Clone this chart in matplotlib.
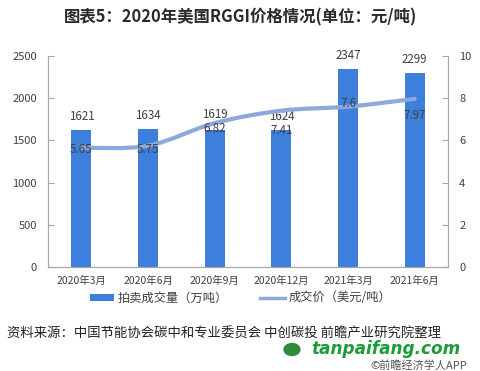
import matplotlib
matplotlib.use("Agg")
import matplotlib.pyplot as plt
import numpy as np
from matplotlib.path import Path
from matplotlib.patches import PathPatch, Circle

plt.rcParams['font.family'] = ['Noto Sans CJK SC', 'DejaVu Sans']

categories = ["2020年3月", "2020年6月", "2020年9月", "2020年12月", "2021年3月", "2021年6月"]
volume = [1621, 1634, 1619, 1624, 2347, 2299]
price = [5.65, 5.75, 6.82, 7.41, 7.6, 7.97]
left_ticks = [0, 500, 1000, 1500, 2000, 2500]
right_ticks = [0, 2, 4, 6, 8, 10]

bar_color = "#3D7FDA"
line_color = "#8FA8DC"
gray = "#A6A6A6"
text_color = "#404040"

fig = plt.figure(figsize=(4.81, 3.71), dpi=100)
ax = fig.add_axes([0.0998, 0.2803, 0.8316, 0.5687])
ax2 = ax.twinx()

x = np.arange(len(categories))
bars = ax.bar(x, volume, width=0.3, color=bar_color, label="拍卖成交量（万吨）", zorder=2)
ax.set_xlim(-0.5, len(categories) - 0.5)
ax.set_ylim(0, 2500)
ax.set_yticks(left_ticks)
ax2.set_ylim(0, 10)
ax2.set_yticks(right_ticks)
ax.set_xticks(x)
ax.set_xticklabels(categories)

bar_offsets = [5, 5, 6.5, 5, 5, 5]
for xi, v, off in zip(x, volume, bar_offsets):
    ax.annotate(str(v), (xi, v), xytext=(0, off), textcoords="offset points",
                ha="center", va="bottom", fontsize=8.3, color=text_color)

# smooth line through data points (Catmull-Rom -> Bezier in data coords)
xs = list(x.astype(float))
ys = list(price)
verts = [(xs[0], ys[0])]
codes = [Path.MOVETO]
n = len(xs)
for i in range(n - 1):
    p0 = (xs[i - 1], ys[i - 1]) if i > 0 else (xs[i], ys[i])
    p1 = (xs[i], ys[i])
    p2 = (xs[i + 1], ys[i + 1])
    p3 = (xs[i + 2], ys[i + 2]) if i + 2 < n else p2
    t = 1 / 6
    c1 = (p1[0] + (p2[0] - p0[0]) * t, p1[1] + (p2[1] - p0[1]) * t)
    c2 = (p2[0] - (p3[0] - p1[0]) * t, p2[1] - (p3[1] - p1[1]) * t)
    verts += [c1, c2, p2]
    codes += [Path.CURVE4] * 3
patch = PathPatch(Path(verts, codes), facecolor="none", edgecolor=line_color,
                  lw=3, capstyle="round", zorder=3)
ax2.add_patch(patch)
ax2.plot([], [], color=line_color, lw=2.5, label="成交价（美元/吨）")

offsets = [-1.5, -3, -4, -14, 2.5, -12]
for xi, p, off in zip(x, price, offsets):
    ax2.annotate(f"{p:g}", (xi, p), xytext=(0, off), textcoords="offset points",
                 ha="center", va="center", fontsize=8.3, color=text_color, zorder=4)

for a in (ax, ax2):
    a.spines['top'].set_visible(False)
    for s in ('left', 'right', 'bottom'):
        a.spines[s].set_color(gray)
        a.spines[s].set_linewidth(0.8)
    a.tick_params(axis='y', direction='in', length=4, color=gray, labelsize=8, labelcolor=text_color, pad=8)
ax.tick_params(axis='x', length=0, labelsize=7.5, labelcolor=text_color, pad=6)

h1, l1 = ax.get_legend_handles_labels()
h2, l2 = ax2.get_legend_handles_labels()
fig.legend(h1 + h2, l1 + l2, loc="center", bbox_to_anchor=(0.5, 0.197), ncol=2,
           frameon=False, fontsize=8.8, handlelength=2.0, handleheight=0.5,
           columnspacing=2.6, handletextpad=0.3, labelcolor=text_color)

fig.text(0.5, 0.953, "图表5：2020年美国RGGI价格情况(单位：元/吨)", ha="center", va="center",
         fontsize=11.8, fontweight="bold", color="#2a2a2a")
fig.text(0.015, 0.10, "资料来源：中国节能协会碳中和专业委员会 中创碳投 前瞻产业研究院整理",
         ha="left", va="center", fontsize=9.6, color="#222222")
fig.text(0.77, 0.014, "©前瞻经济学人APP", ha="left", va="center", fontsize=8,
         color="#555555")
fig.text(0.648, 0.058, "tanpaifang.com", ha="left", va="center", fontsize=12.2,
         fontweight="bold", style="italic", color="#1E9B3A", family="DejaVu Sans")
fig.patches.append(Circle((0.607, 0.058), 0.018, transform=fig.transFigure,
                          facecolor="#2E8B3E", edgecolor="none"))

fig.savefig("out.png", dpi=100)
